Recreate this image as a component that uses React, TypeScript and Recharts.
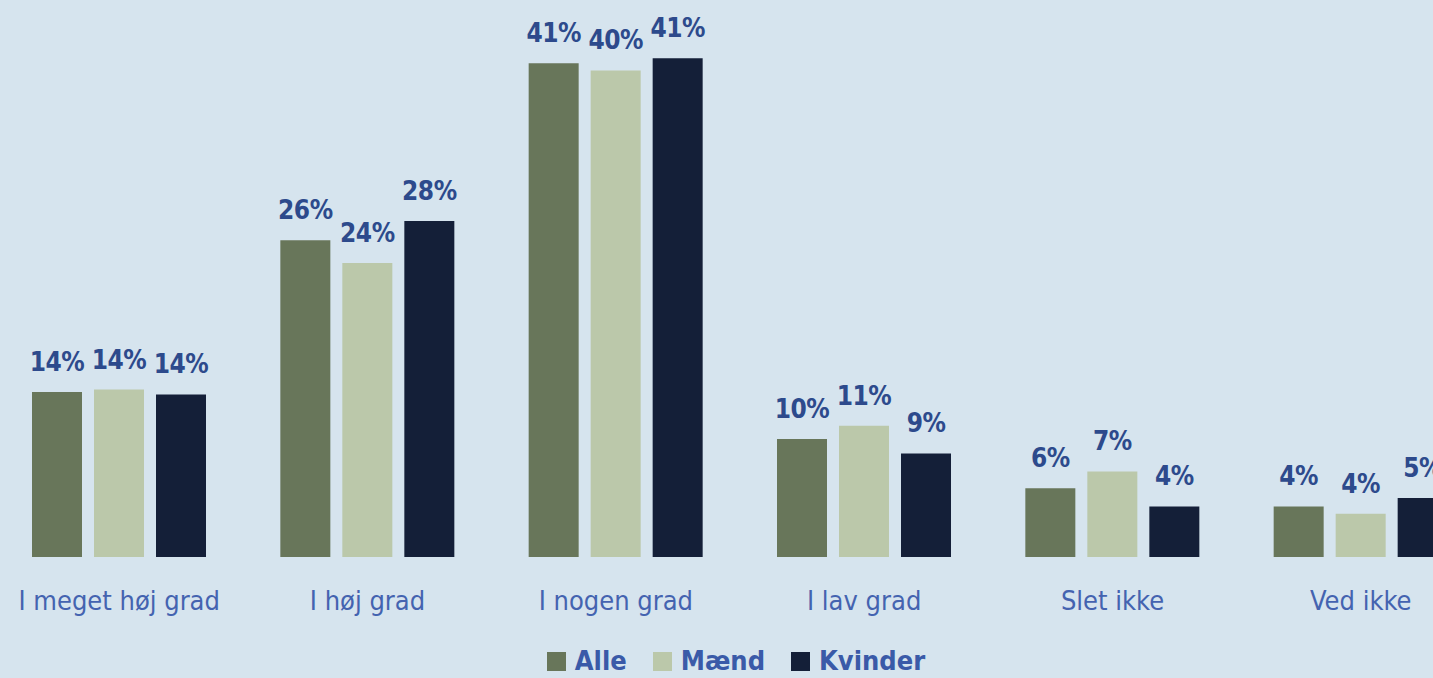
import { BarChart, Bar, XAxis, YAxis, Legend, LabelList } from "recharts";

const categories = [
  "I meget høj grad",
  "I høj grad",
  "I nogen grad",
  "I lav grad",
  "Slet ikke",
  "Ved ikke",
];
const alle = [13.7, 26.3, 41.0, 9.8, 5.7, 4.2];
const maend = [13.9, 24.4, 40.4, 10.9, 7.1, 3.6];
const kvinder = [13.5, 27.9, 41.4, 8.6, 4.2, 4.9];

const seriesNames = ["Alle", "Mænd", "Kvinder"];
const seriesColors = ["#68765a", "#bbc8aa", "#141f38"];

const data = categories.map((c, i) => ({
  name: c,
  alle: alle[i],
  maend: maend[i],
  kvinder: kvinder[i],
}));

const FONT = "'Liberation Sans Narrow', 'DejaVu Sans Condensed', sans-serif";

const LegendBox = () => (
  <div
    style={{
      height: 32,
      display: "flex",
      justifyContent: "center",
      alignItems: "flex-start",
      paddingLeft: 18,
      fontFamily: FONT,
      fontWeight: 700,
      fontSize: 27,
      lineHeight: "30px",
      color: "#3a5aa8",
    }}
  >
    {seriesNames.map((n, i) => (
      <span
        key={n}
        style={{ display: "flex", alignItems: "center", marginRight: 26 }}
      >
        <span
          style={{
            width: 19,
            height: 19,
            background: seriesColors[i],
            display: "inline-block",
            marginRight: 9,
          }}
        />
        {n}
      </span>
    ))}
  </div>
);

const fmt = (v: any) => Math.round(Number(v)) + "%";

export default function App() {
  const keys = ["alle", "maend", "kvinder"];
  return (
    <div
      style={{
        position: "absolute",
        left: 0,
        top: 0,
        width: 1433,
        height: 678,
        overflow: "hidden",
        background: "#d6e4ee",
      }}
    >
      <div style={{ marginLeft: -5 }}>
        <BarChart
          width={1490}
          height={678}
          data={data}
          margin={{ top: 15, right: 0, left: 0, bottom: 0 }}
          barCategoryGap={37}
          barGap={12}
        >
          <XAxis
            dataKey="name"
            axisLine={false}
            tickLine={false}
            tickSize={0}
            tickMargin={34}
            height={89}
            interval={0}
            tick={{ fill: "#4463b0", fontSize: 27, fontFamily: FONT }}
          />
          <YAxis hide domain={[0, 45]} />
          <Legend verticalAlign="bottom" content={<LegendBox />} />
          {keys.map((k, i) => (
            <Bar
              key={k}
              dataKey={k}
              name={seriesNames[i]}
              fill={seriesColors[i]}
              isAnimationActive={false}
            >
              <LabelList
                dataKey={k}
                position="top"
                offset={21}
                formatter={fmt}
                style={{
                  fill: "#2d4a8c",
                  fontSize: 26,
                  fontWeight: 700,
                  letterSpacing: -0.5,
                  fontFamily: FONT,
                }}
              />
            </Bar>
          ))}
        </BarChart>
      </div>
    </div>
  );
}
